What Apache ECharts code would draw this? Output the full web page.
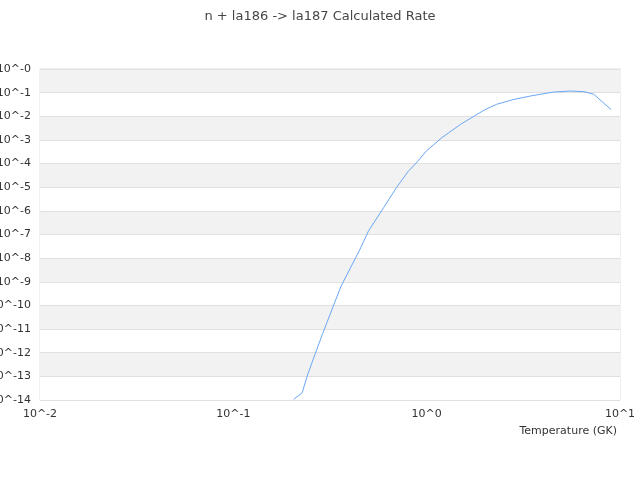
<!DOCTYPE html>
<html>
<head>
<meta charset="utf-8">
<script src="https://cdn.jsdelivr.net/npm/echarts@6/dist/echarts.min.js"></script>
<style>
  html, body { margin: 0; padding: 0; background: #fff; }
  #chart { width: 640px; height: 480px; }
</style>
</head>
<body>
<div id="chart"></div>
<script>
// temperatures (GK) and rates
const temperatures = [0.205, 0.227, 0.242, 0.258, 0.29, 0.36, 0.45, 0.5, 0.6, 0.7, 0.8, 0.9, 1.0,
  1.2, 1.5, 2.0, 2.3, 2.8, 3.5, 4.5, 5.5, 6.5, 7.3, 9.0]
const rates = [1.07e-14, 2.0e-14, 1.15e-13, 4.9e-13, 6.6e-12, 6.3e-10, 2.2e-8, 1.4e-7, 1.4e-6, 1.0e-5,
  4.5e-5, 1.26e-4, 3.5e-4, 1.26e-3, 4.6e-3, 1.9e-2, 3.2e-2, 5.1e-2, 7.4e-2, 0.105, 0.117, 0.11,
  0.087, 0.019]
const titleText = 'n + la186 -> la187 Calculated Rate'
const xName = 'Temperature (GK)'

const chart = echarts.init(document.getElementById('chart'))

const option = {
  animation: false,
  textStyle: { fontFamily: 'DejaVu Sans' },
  title: {
    text: titleText,
    left: 'center',
    top: 5,
    textStyle: { fontSize: 13, fontWeight: 'normal', color: '#464646' }
  },
  grid: {
    left: 40, right: 20, top: 69, bottom: 80,
    containLabel: false,
    outerBoundsMode: 'none',
    show: true, borderColor: '#e0e0e0', borderWidth: 1
  },
  xAxis: {
    type: 'log',
    min: 0.01,
    max: 10,
    name: xName,
    nameLocation: 'end',
    nameGap: 0,
    nameTextStyle: { color: '#333', fontSize: 11, align: 'right', verticalAlign: 'top', padding: [26, 3, 0, 0] },
    axisLine: { show: false },
    axisTick: { show: false },
    splitLine: { show: false },
    axisLabel: {
      color: '#333',
      fontSize: 11,
      margin: 9,
      formatter: v => '10^' + Math.round(Math.log10(v))
    }
  },
  yAxis: {
    type: 'log',
    min: 1e-14,
    max: 1,
    interval: 1,
    axisLine: { show: false },
    axisTick: { show: false },
    splitLine: { show: true, lineStyle: { color: '#e0e0e0' } },
    splitArea: { show: true, areaStyle: { color: ['#ffffff', '#f2f2f2'] } },
    axisLabel: {
      color: '#333',
      fontSize: 11,
      margin: 9,
      formatter: v => '10^-' + Math.abs(Math.round(-Math.log10(v)))
    }
  },
  series: [{
    type: 'line',
    data: temperatures.map((t, i) => [t, rates[i]]),
    showSymbol: false,
    smooth: false,
    lineStyle: { width: 1, color: '#6aa6f5' },
    itemStyle: { color: '#6aa6f5' }
  }]
}

chart.setOption(option)
</script>
</body>
</html>
